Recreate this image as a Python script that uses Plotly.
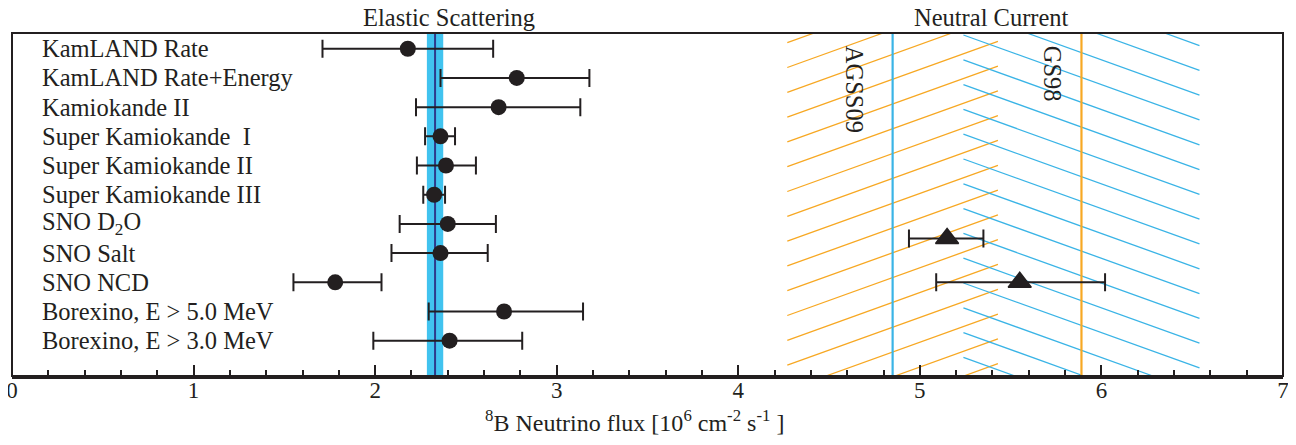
import plotly.graph_objects as go

# ---------------- data ----------------
experiments = ["KamLAND Rate", "KamLAND Rate+Energy", "Kamiokande II",
               "Super Kamiokande\u00a0 I", "Super Kamiokande II", "Super Kamiokande III",
               "SNO D<sub>2</sub>O", "SNO Salt", "SNO NCD",
               "Borexino, E > 5.0 MeV", "Borexino, E > 3.0 MeV"]
row_pos = [11, 10, 9, 8, 7, 6, 5, 4, 3, 2, 1]
es_flux = [2.18, 2.78, 2.68, 2.36, 2.39, 2.325, 2.40, 2.36, 1.78, 2.71, 2.41]
es_err_minus = [0.47, 0.42, 0.455, 0.085, 0.16, 0.06, 0.265, 0.27, 0.23, 0.415, 0.42]
es_err_plus = [0.47, 0.40, 0.45, 0.08, 0.165, 0.06, 0.265, 0.26, 0.255, 0.435, 0.40]

nc_flux = [5.15, 5.55]
nc_pos = [4.5, 3]
nc_err_minus = [0.21, 0.46]
nc_err_plus = [0.20, 0.47]

es_avg = 2.33
es_avg_half = 0.045

model_names = ["AGSS09", "GS98"]
model_flux = [4.85, 5.89]
model_half = [0.58, 0.65]

x_ticks = [0, 1, 2, 3, 4, 5, 6, 7]

# ---------------- style / geometry ----------------
# page body has an 8px margin, so the figure is sized/offset to compensate
W, H = 1280, 429
ML, MR, MT, MB = 4, 5, 25, 61
plot_w = W - ML - MR
plot_h = H - MT - MB
xr = [0, 7]
yr = [-0.21, 11.54]
FONT = "Liberation Serif"
BLACK = "#231f20"
ORANGE = "#f7a823"
BLUE = "#3ab4e6"

px_per_x = plot_w / (xr[1] - xr[0])
px_per_y = plot_h / (yr[1] - yr[0])


def hatch(x0, x1, first_px, direction, spacing_px=24.8, slope_px=0.36):
    m = direction * slope_px * px_per_x / px_per_y
    dy = spacing_px / px_per_y
    y_start = yr[1] - first_px / px_per_y
    xs, ys = [], []
    for k in range(-80, 80):
        yk = y_start - k * dy
        xlo = x0 + (yr[0] - yk) / m
        xhi = x0 + (yr[1] - yk) / m
        if xlo > xhi:
            xlo, xhi = xhi, xlo
        a = max(x0, xlo)
        b = min(x1, xhi)
        if a < b:
            xs += [a, b, None]
            ys += [yk + m * (a - x0), yk + m * (b - x0), None]
    return xs, ys


fig = go.Figure()

# hatched model bands
hatch_specs = [(ORANGE, 9.7, 1), (BLUE, 2.0, -1)]
for (col, first_px, d), c, h in zip(hatch_specs, model_flux, model_half):
    hx, hy = hatch(c - h, c + h, first_px, d)
    fig.add_trace(go.Scatter(x=hx, y=hy, mode="lines",
                             line=dict(color=col, width=1.3),
                             hoverinfo="skip", showlegend=False))

# model central lines (AGSS09 blue, GS98 orange)
line_cols = [BLUE, ORANGE]
for c, col in zip(model_flux, line_cols):
    fig.add_trace(go.Scatter(x=[c, c], y=yr, mode="lines",
                             line=dict(color=col, width=2.2),
                             hoverinfo="skip", showlegend=False))

# elastic scattering points
fig.add_trace(go.Scatter(
    x=es_flux, y=row_pos, mode="markers",
    marker=dict(symbol="circle", size=16, color=BLACK),
    error_x=dict(type="data", symmetric=False, array=es_err_plus,
                 arrayminus=es_err_minus, color=BLACK, thickness=2, width=9),
    showlegend=False))

# neutral current points
fig.add_trace(go.Scatter(
    x=nc_flux, y=nc_pos, mode="markers",
    marker=dict(symbol="triangle-up", size=20, color=BLACK,
                line=dict(color=BLACK, width=1.5)),
    error_x=dict(type="data", symmetric=False, array=nc_err_plus,
                 arrayminus=nc_err_minus, color=BLACK, thickness=2, width=9),
    showlegend=False))

shapes = [
    dict(type="rect", xref="x", yref="paper", x0=es_avg - es_avg_half,
         x1=es_avg + es_avg_half, y0=0, y1=1, fillcolor="#41c3ef",
         line=dict(width=0), layer="below"),
    dict(type="line", xref="x", yref="paper", x0=es_avg, x1=es_avg, y0=0, y1=1,
         line=dict(color="#2e3a8c", width=2), layer="below"),
    dict(type="rect", xref="paper", yref="paper", x0=0, x1=1, y0=0, y1=1,
         line=dict(color=BLACK, width=2), layer="above"),
]

annotations = []
for name, yv in zip(experiments, row_pos):
    annotations.append(dict(x=0.153, y=yv, xref="x", yref="y", text=name,
                            showarrow=False, xanchor="left", yanchor="middle",
                            font=dict(family=FONT, size=24.5, color=BLACK)))

annotations += [
    dict(x=2.405, y=1, xref="x", yref="paper", text="Elastic Scattering",
         showarrow=False, xanchor="center", yanchor="bottom", yshift=0,
         font=dict(family=FONT, size=24.5, color=BLACK)),
    dict(x=5.392, y=1, xref="x", yref="paper", text="Neutral Current",
         showarrow=False, xanchor="center", yanchor="bottom", yshift=0,
         font=dict(family=FONT, size=24.5, color=BLACK)),
    dict(x=4.638, y=0.837, xref="x", yref="paper", text=model_names[0],
         showarrow=False, textangle=90, xanchor="center", yanchor="middle",
         font=dict(family=FONT, size=24.5, color=BLACK)),
    dict(x=5.73, y=0.880, xref="x", yref="paper", text=model_names[1],
         showarrow=False, textangle=90, xanchor="center", yanchor="middle",
         font=dict(family=FONT, size=24.5, color=BLACK)),
    dict(x=3.429, y=0, xref="x", yref="paper",
         text="<sup>8</sup>B Neutrino flux [10<sup>6</sup> cm<sup>-2</sup> s<sup>-1</sup> ]",
         showarrow=False, xanchor="center", yanchor="middle", yshift=-45,
         font=dict(family=FONT, size=24, color=BLACK)),
]

fig.update_layout(
    width=W, height=H,
    margin=dict(l=ML, r=MR, t=MT, b=MB, autoexpand=False),
    paper_bgcolor="white", plot_bgcolor="white",
    shapes=shapes, annotations=annotations,
    xaxis=dict(range=xr, tickvals=x_ticks, ticktext=[str(t) for t in x_ticks],
               automargin=False, ticklabelstandoff=-9, ticklabeloverflow="allow",
               ticks="inside", ticklen=11, tickwidth=1.5, tickcolor=BLACK,
               showline=True, linecolor=BLACK, linewidth=3, showgrid=False,
               zeroline=False, tickfont=dict(family=FONT, size=23, color=BLACK),
               minor=dict(dtick=0.2, ticks="inside", ticklen=6, tickwidth=1.5,
                          tickcolor=BLACK, showgrid=False)),
    yaxis=dict(range=yr, showticklabels=False, ticks="", showgrid=False,
               zeroline=False, showline=False, automargin=False),
)

fig.write_html("out.html")
